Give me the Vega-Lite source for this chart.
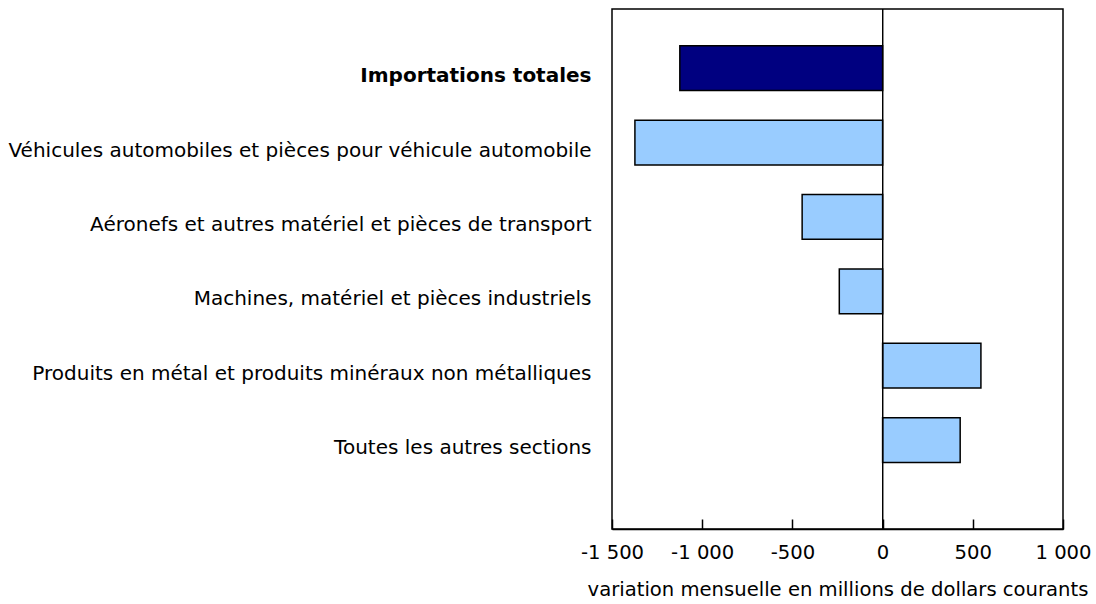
{
  "$schema": "https://vega.github.io/schema/vega-lite/v6.json",
  "width": 451,
  "height": 520,
  "autosize": {"type": "none"},
  "padding": {"left": 612, "top": 9, "right": 33, "bottom": 75},
  "background": "white",
  "config": {
    "view": {"stroke": "black", "strokeWidth": 1.5},
    "font": "DejaVu Sans",
    "axis": {"labelFont": "DejaVu Sans", "titleFont": "DejaVu Sans", "labelColor": "black", "titleColor": "black"}
  },
  "data": {
    "values": [
      {"categorie": "Importations totales", "variation": -1124, "groupe": "total"},
      {"categorie": "Véhicules automobiles et pièces pour véhicule automobile", "variation": -1373, "groupe": "section"},
      {"categorie": "Aéronefs et autres matériel et pièces de transport", "variation": -446, "groupe": "section"},
      {"categorie": "Machines, matériel et pièces industriels", "variation": -240, "groupe": "section"},
      {"categorie": "Produits en métal et produits minéraux non métalliques", "variation": 545, "groupe": "section"},
      {"categorie": "Toutes les autres sections", "variation": 430, "groupe": "section"}
    ]
  },
  "layer": [
    {
      "mark": {"type": "bar", "stroke": "black", "strokeWidth": 1.5},
      "encoding": {
        "y": {
          "field": "categorie",
          "type": "nominal",
          "sort": null,
          "scale": {"paddingInner": 0.399, "paddingOuter": 0.694, "align": 0.356},
          "axis": {
            "title": null,
            "domain": false,
            "ticks": false,
            "labelPadding": 21,
            "labelOffset": 8,
            "labelFontSize": 20,
            "labelLimit": 700,
            "labelFontWeight": {"condition": {"test": "datum.value == 'Importations totales'", "value": "bold"}, "value": "normal"}
          }
        },
        "x": {
          "field": "variation",
          "type": "quantitative",
          "scale": {"domain": [-1500, 1000], "nice": false, "zero": false},
          "axis": {
            "title": "variation mensuelle en millions de dollars courants",
            "values": [-1500, -1000, -500, 0, 500, 1000],
            "grid": false,
            "domainColor": "black",
            "domainWidth": 1.5,
            "tickColor": "black",
            "tickWidth": 1.5,
            "tickSize": -10,
            "labelPadding": 24,
            "labelOverlap": false,
            "labelFlush": false,
            "labelFontSize": 19.6,
            "titleFontSize": 19.6,
            "titleFontWeight": "normal",
            "titlePadding": 19,
            "labelExpr": "replace(replace(format(datum.value, ','), ',', ' '), '−', '-')"
          }
        },
        "color": {
          "field": "groupe",
          "type": "nominal",
          "scale": {"domain": ["total", "section"], "range": ["#000080", "#99CCFF"]},
          "legend": null
        }
      }
    },
    {
      "mark": {"type": "rule", "color": "black", "strokeWidth": 1},
      "encoding": {"x": {"datum": 0, "type": "quantitative"}}
    }
  ]
}
